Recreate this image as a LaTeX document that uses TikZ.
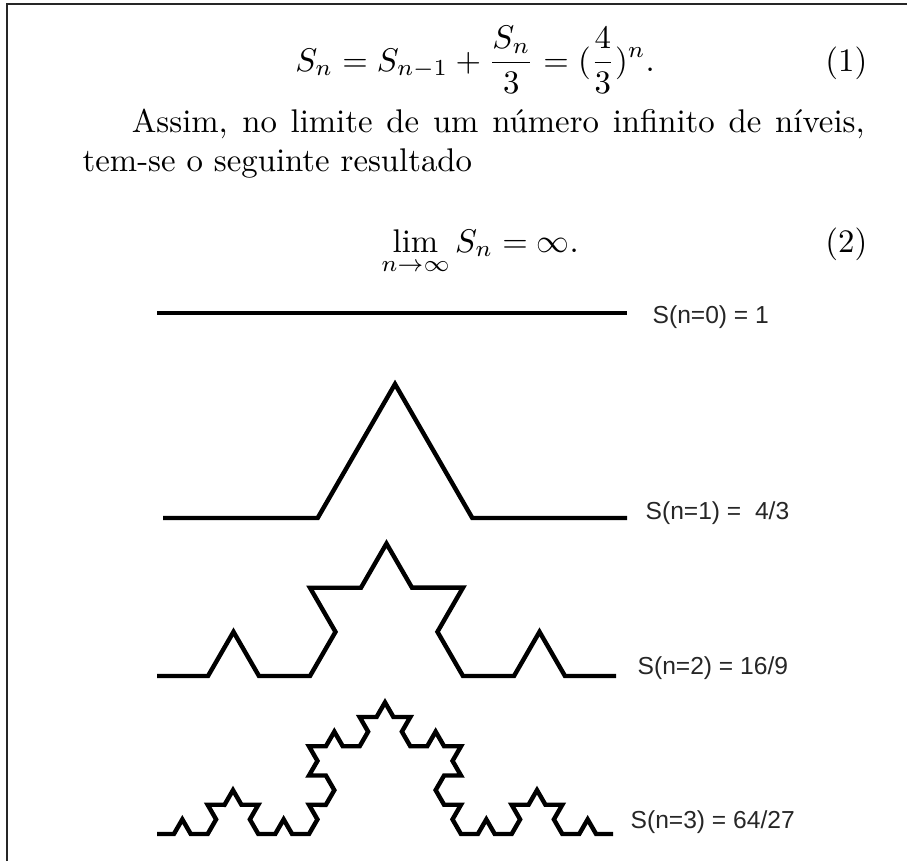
\documentclass[tikz,border=0pt]{standalone}
\usepackage{amsmath}
\usepackage{fontspec}
\newfontfamily\labelfont{Liberation Sans}
\usetikzlibrary{positioning, decorations.fractals}

\begin{document}
\begin{tikzpicture}[
  x=0.305pt, y=-0.305pt,
  frame/.style={line width=0.8pt, black!85},
  koch/.style={line width=1.35pt, decoration=Koch snowflake},
  lbl/.style={font=\labelfont\fontsize{7.5}{9}\selectfont, inner sep=0pt,
              anchor=west, black!85},
  eqn/.style={inner sep=0pt, anchor=base},
]
  \useasboundingbox (0,0) rectangle (907,861);
  \draw[frame] (7,861) |- (907,4);

  \node[eqn] (eq1) at (475,71)
       {$\displaystyle S_n = S_{n-1} + \frac{S_n}{3} = (\frac{4}{3})^n.$};
  \node[eqn, anchor=base east] (eq1n) at (868,71) {(1)};
  \node[inner sep=0pt, anchor=base west, text width=238.5pt, align=justify]
       (par) at (82,132)
       {\hspace*{15pt}Assim, no limite de um número infinito de níveis,
        tem-se o seguinte resultado};
  \node[eqn] (eq2) at (480,252) {$\displaystyle \lim_{n\to\infty} S_n = \infty.$};
  \node[eqn, anchor=base east] (eq2n) at (868,252) {(2)};

  \coordinate (k0a) at (157,313); \coordinate (k0b) at (627,313);
  \coordinate (k1a) at (163,518); \coordinate (k1b) at (627,518);
  \coordinate (k2a) at (157,676); \coordinate (k2b) at (616,676);
  \coordinate (k3a) at (157,834); \coordinate (k3b) at (613,834);

  \draw[koch] (k0a) -- (k0b);
  \draw[koch] decorate{(k1a) -- (k1b)};
  \draw[koch] decorate{decorate{(k2a) -- (k2b)}};
  \draw[koch] decorate{decorate{decorate{(k3a) -- (k3b)}}};

  \node[lbl] (s0) at (652,317) {S(n=0) = 1};
  \node[lbl] (s1) at (645,513) {S(n=1) =\ \ 4/3};
  \node[lbl] (s2) at (637,668) {S(n=2) = 16/9};
  \node[lbl] (s3) at (630,822) {S(n=3) = 64/27};
\end{tikzpicture}
\end{document}
